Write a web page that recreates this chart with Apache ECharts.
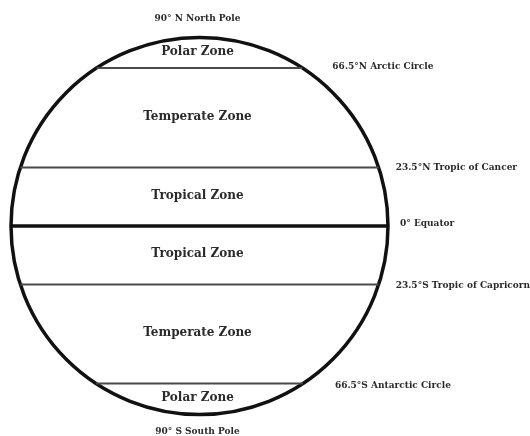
<!DOCTYPE html>
<html>
<head>
<meta charset="utf-8">
<script src="https://cdn.jsdelivr.net/npm/echarts@6/dist/echarts.min.js"></script>
<style>
html,body{margin:0;padding:0;background:#fff;}
#chart{width:530px;height:436px;}
</style>
</head>
<body>
<div id="chart"></div>
<script>
// Boundary latitudes on the schematic (vertical position, circle radius = 100)
const boundaries = [100, 83.8, 31, 0, -31, -83.6, -100];
const boundaryLabels = ['90° N North Pole', '66.5°N Arctic Circle', '23.5°N Tropic of Cancer', '0° Equator', '23.5°S Tropic of Capricorn', '66.5°S Antarctic Circle', '90° S South Pole'];
const zoneNames = ['Polar Zone', 'Temperate Zone', 'Tropical Zone', 'Tropical Zone', 'Temperate Zone', 'Polar Zone'];
const radius = 100;

// styling / layout (pixel offsets for the text labels)
const labelGap = [-19, 30, 17, 12, 17, 32, 17];
const labelDy = [0, -1, 0, -2, 1, 2, 0];
const FONT = '"DejaVu Serif", "Liberation Serif", serif';
const TEXT_COLOR = '#2b2b2b';

const chart = echarts.init(document.getElementById('chart'), null, {renderer: 'canvas'});

const innerLines = [];
for (let i = 1; i < boundaries.length - 1; i++) innerLines.push([boundaries[i], i]);
const poles = [[boundaries[0], 0], [boundaries[boundaries.length - 1], boundaries.length - 1]];
const zones = [];
for (let i = 0; i < zoneNames.length; i++) zones.push([0, (boundaries[i] + boundaries[i + 1]) / 2]);

chart.setOption({
  animation: false,
  backgroundColor: '#fff',
  grid: {left: 11, top: 37.5, width: 377, height: 377},
  xAxis: {type: 'value', min: -radius, max: radius, show: false},
  yAxis: {type: 'value', min: -radius, max: radius, show: false},
  series: [
    {
      type: 'custom', clip: false, silent: true,
      data: [[0, 0, radius]],
      renderItem: function (params, api) {
        const c = api.coord([api.value(0), api.value(1)]);
        const r = api.size([api.value(2), api.value(2)])[0];
        return {
          type: 'circle',
          shape: {cx: c[0], cy: c[1], r: r},
          style: {fill: 'none', stroke: '#111', lineWidth: 3.5}
        };
      }
    },
    {
      type: 'custom', clip: false, silent: true,
      data: innerLines,
      renderItem: function (params, api) {
        const y = api.value(0);
        const idx = api.value(1);
        const half = Math.sqrt(radius * radius - y * y);
        const p1 = api.coord([-half, y]);
        const p2 = api.coord([half, y]);
        const isEq = y === 0;
        return {
          type: 'group',
          children: [
            {
              type: 'line',
              shape: {x1: p1[0], y1: p1[1], x2: p2[0], y2: p2[1]},
              style: {stroke: isEq ? '#111' : '#4a4a4a', lineWidth: isEq ? 3.5 : 2}
            },
            {
              type: 'text',
              x: p2[0] + labelGap[idx], y: p2[1] + labelDy[idx],
              style: {
                text: boundaryLabels[idx], fill: TEXT_COLOR,
                font: 'bold 9px ' + FONT,
                verticalAlign: 'middle', align: 'left'
              }
            }
          ]
        };
      }
    },
    {
      type: 'custom', clip: false, silent: true,
      data: poles,
      renderItem: function (params, api) {
        const p = api.coord([0, api.value(0)]);
        const idx = api.value(1);
        return {
          type: 'text',
          x: p[0] - 2, y: p[1] + labelGap[idx],
          style: {
            text: boundaryLabels[idx], fill: TEXT_COLOR,
            font: 'bold 9px ' + FONT,
            verticalAlign: 'middle', align: 'center'
          }
        };
      }
    },
    {
      type: 'custom', clip: false, silent: true,
      data: zones,
      renderItem: function (params, api) {
        const p = api.coord([api.value(0), api.value(1)]);
        return {
          type: 'text',
          x: p[0] - 2, y: p[1] - 1,
          style: {
            text: zoneNames[params.dataIndex], fill: TEXT_COLOR,
            font: 'bold 12px ' + FONT,
            verticalAlign: 'middle', align: 'center'
          }
        };
      }
    }
  ]
});
</script>
</body>
</html>
